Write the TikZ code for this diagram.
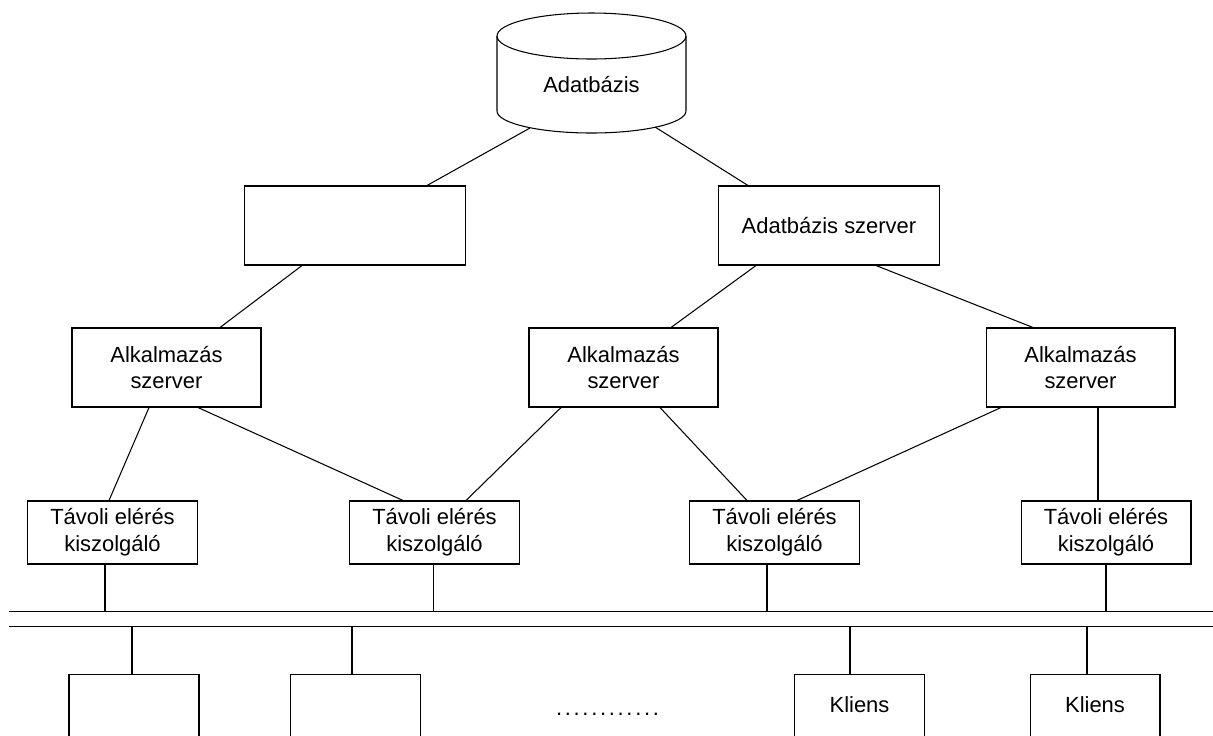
\documentclass[tikz,border=0pt]{standalone}
\usepackage{fontspec}
\setmainfont{Liberation Sans}
\begin{document}
\begin{tikzpicture}[x=0.02cm,y=-0.02cm,
  line width=0.6pt,
  every node/.style={font=\fontsize{12.5}{15.2}\selectfont, inner sep=0pt},
  box/.style={draw, align=center, fill=white},
  topbox/.style={box, minimum width=4.42cm, minimum height=1.58cm},
  appbox/.style={box, minimum width=3.78cm, minimum height=1.58cm},
  tbox/.style={box, minimum width=3.40cm, minimum height=1.26cm},
  clbox/.style={box, minimum width=2.60cm, minimum height=2.52cm}]
\useasboundingbox (0,0) rectangle (1213,735);
\clip (0,0) rectangle (1213,735);
% database cylinder
\draw (497,36) -- (497,111) arc[start angle=180,end angle=0,x radius=94.5,y radius=22] -- (686,36);
\draw (591.5,36) ellipse[x radius=94.5,y radius=23];
\node (db) at (591.5,85) {Adatbázis};
\coordinate (dbl) at (530,128);
\coordinate (dbr) at (655,127);
% boxes
\node[topbox] (empty) at (355,225.5) {};
\node[topbox] (dbs) at (829,225.5) {Adatbázis szerver};
\node[appbox] (app1) at (166.5,367.5) {Alkalmazás\\szerver};
\node[appbox] (app2) at (623.5,367.5) {Alkalmazás\\szerver};
\node[appbox] (app3) at (1080.5,367.5) {Alkalmazás\\szerver};
\node[tbox] (t1) at (112.5,532.5) {Távoli elérés\\kiszolgáló};
\node[tbox] (t2) at (434.5,532.5) {Távoli elérés\\kiszolgáló};
\node[tbox] (t3) at (774.5,532.5) {Távoli elérés\\kiszolgáló};
\node[tbox] (t4) at (1106,532.5) {Távoli elérés\\kiszolgáló};
\node[clbox] (c1) at (134,737) {};
\node[clbox] (c2) at (355.5,737) {};
\node[clbox] (c3) at (859.5,737) {};
\node[clbox] (c4) at (1095,737) {};
\node (k3) at ([yshift=-0.62cm]c3.north) {Kliens};
\node (k4) at ([yshift=-0.62cm]c4.north) {Kliens};
\node[anchor=base] (dots) at (607.5,715) {.\kern0.054cm.\kern0.054cm.\kern0.054cm.\kern0.054cm.\kern0.054cm.\kern0.054cm.\kern0.054cm.\kern0.054cm.\kern0.054cm.\kern0.054cm.\kern0.054cm.};
% bus
\coordinate (busAl) at (9,611.5);
\coordinate (busAr) at (1213,611.5);
\coordinate (busBl) at (9,626.5);
\coordinate (busBr) at (1213,626.5);
\draw (busAl) -- (busAr);
\draw (busBl) -- (busBr);
% connectors
\draw (dbl) -- (427,0 |- empty.north);
\draw (dbr) -- (748,0 |- dbs.north);
\draw (302,0 |- empty.south) -- (220,0 |- app1.north);
\draw (756,0 |- dbs.south) -- (671,0 |- app2.north);
\draw (876,0 |- dbs.south) -- (1033,0 |- app3.north);
\draw (149,0 |- app1.south) -- (109,0 |- t1.north);
\draw (198,0 |- app1.south) -- (403,0 |- t2.north);
\draw (561,0 |- app2.south) -- (466,0 |- t2.north);
\draw (660,0 |- app2.south) -- (747,0 |- t3.north);
\draw (1001,0 |- app3.south) -- (797,0 |- t3.north);
\draw (1098,0 |- app3.south) -- (1098,0 |- t4.north);
\draw (105,0 |- t1.south) -- (105,0 |- busAl);
\draw (433.5,0 |- t2.south) -- (433.5,0 |- busAl);
\draw (767,0 |- t3.south) -- (767,0 |- busAl);
\draw (1106,0 |- t4.south) -- (1106,0 |- busAl);
\draw (132,0 |- busBl) -- (132,0 |- c1.north);
\draw (352,0 |- busBl) -- (352,0 |- c2.north);
\draw (850,0 |- busBl) -- (850,0 |- c3.north);
\draw (1087,0 |- busBl) -- (1087,0 |- c4.north);
\end{tikzpicture}
\end{document}
